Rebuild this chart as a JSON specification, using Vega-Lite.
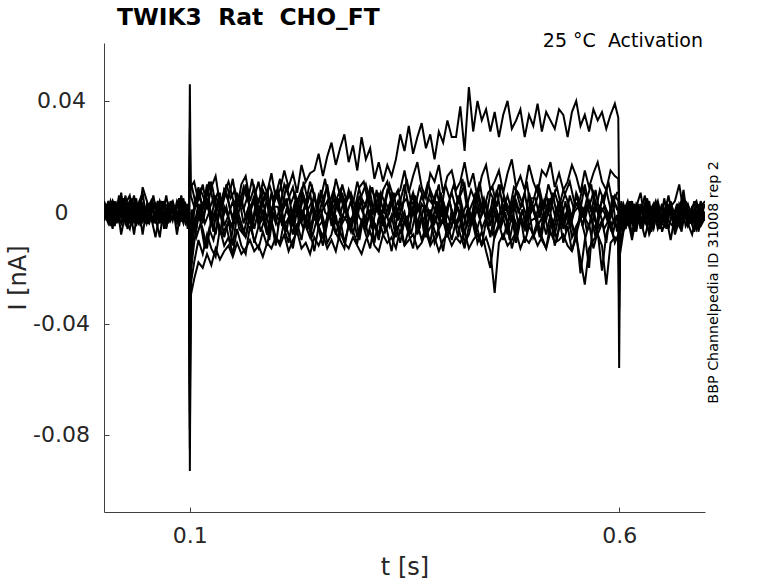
{
  "$schema": "https://vega.github.io/schema/vega-lite/v6.json",
  "width": 601,
  "height": 469,
  "autosize": {"type": "none"},
  "padding": {"left": 104, "top": 43, "right": 73, "bottom": 71},
  "config": {"view": {"stroke": null}, "font": "DejaVu Sans"},
  "title": {
    "text": "TWIK3\u00a0 Rat\u00a0 CHO_FT",
    "anchor": "start",
    "frame": "group",
    "font": "DejaVu Sans",
    "fontSize": 23.4,
    "fontWeight": "bold",
    "color": "#000000",
    "baseline": "alphabetic",
    "offset": 5,
    "dx": 13,
    "dy": 22
  },
  "data": {
    "values": [
{"s":1,"t":0.000,"v":0.002},{"s":1,"t":0.005,"v":-0.003},{"s":1,"t":0.010,"v":0.004},{"s":1,"t":0.015,"v":0},{"s":1,"t":0.020,"v":-0.004},{"s":1,"t":0.025,"v":0.003},{"s":1,"t":0.030,"v":0.006},{"s":1,"t":0.035,"v":-0.002},{"s":1,"t":0.040,"v":-0.004},{"s":1,"t":0.045,"v":0.009},{"s":1,"t":0.050,"v":0.004},{"s":1,"t":0.055,"v":-0.003},{"s":1,"t":0.060,"v":0},{"s":1,"t":0.065,"v":0.003},{"s":1,"t":0.070,"v":-0.006},{"s":1,"t":0.075,"v":0.002},{"s":1,"t":0.080,"v":0.004},{"s":1,"t":0.085,"v":-0.002},{"s":1,"t":0.090,"v":-0.003},{"s":1,"t":0.095,"v":0.003},
{"s":1,"t":0.099,"v":0},{"s":1,"t":0.100,"v":0.046},{"s":1,"t":0.101,"v":0.009},
{"s":1,"t":0.105,"v":0.011},{"s":1,"t":0.110,"v":0.004},{"s":1,"t":0.115,"v":0.010},{"s":1,"t":0.120,"v":0.001},{"s":1,"t":0.125,"v":0.009},{"s":1,"t":0.130,"v":0.013},{"s":1,"t":0.135,"v":0.003},{"s":1,"t":0.140,"v":0.007},{"s":1,"t":0.145,"v":0.011},{"s":1,"t":0.150,"v":0.005},{"s":1,"t":0.155,"v":0.001},{"s":1,"t":0.160,"v":0.010},{"s":1,"t":0.165,"v":0.013},{"s":1,"t":0.170,"v":0.004},{"s":1,"t":0.175,"v":0.009},{"s":1,"t":0.180,"v":0.003},{"s":1,"t":0.185,"v":0.011},{"s":1,"t":0.190,"v":0.007},{"s":1,"t":0.195,"v":0.014},{"s":1,"t":0.200,"v":0.005},
{"s":1,"t":0.205,"v":0.008},{"s":1,"t":0.210,"v":0.015},{"s":1,"t":0.215,"v":0.009},{"s":1,"t":0.220,"v":0.014},{"s":1,"t":0.225,"v":0.007},{"s":1,"t":0.230,"v":0.017},{"s":1,"t":0.235,"v":0.011},{"s":1,"t":0.240,"v":0.014},{"s":1,"t":0.245,"v":0.015},{"s":1,"t":0.250,"v":0.021},{"s":1,"t":0.255,"v":0.013},{"s":1,"t":0.260,"v":0.020},{"s":1,"t":0.265,"v":0.025},{"s":1,"t":0.270,"v":0.017},{"s":1,"t":0.275,"v":0.023},{"s":1,"t":0.280,"v":0.028},{"s":1,"t":0.285,"v":0.018},{"s":1,"t":0.290,"v":0.024},{"s":1,"t":0.295,"v":0.015},{"s":1,"t":0.300,"v":0.027},
{"s":1,"t":0.305,"v":0.019},{"s":1,"t":0.310,"v":0.023},{"s":1,"t":0.315,"v":0.012},{"s":1,"t":0.320,"v":0.018},{"s":1,"t":0.325,"v":0.011},{"s":1,"t":0.330,"v":0.017},{"s":1,"t":0.335,"v":0.013},{"s":1,"t":0.340,"v":0.019},{"s":1,"t":0.345,"v":0.028},{"s":1,"t":0.350,"v":0.022},{"s":1,"t":0.355,"v":0.031},{"s":1,"t":0.360,"v":0.021},{"s":1,"t":0.365,"v":0.027},{"s":1,"t":0.370,"v":0.032},{"s":1,"t":0.375,"v":0.023},{"s":1,"t":0.380,"v":0.028},{"s":1,"t":0.385,"v":0.019},{"s":1,"t":0.390,"v":0.029},{"s":1,"t":0.395,"v":0.025},{"s":1,"t":0.400,"v":0.033},
{"s":1,"t":0.405,"v":0.027},{"s":1,"t":0.410,"v":0.027},{"s":1,"t":0.415,"v":0.038},{"s":1,"t":0.420,"v":0.022},{"s":1,"t":0.425,"v":0.045},{"s":1,"t":0.430,"v":0.029},{"s":1,"t":0.435,"v":0.040},{"s":1,"t":0.440,"v":0.033},{"s":1,"t":0.445,"v":0.037},{"s":1,"t":0.450,"v":0.029},{"s":1,"t":0.455,"v":0.036},{"s":1,"t":0.460,"v":0.027},{"s":1,"t":0.465,"v":0.035},{"s":1,"t":0.470,"v":0.040},{"s":1,"t":0.475,"v":0.030},{"s":1,"t":0.480,"v":0.033},{"s":1,"t":0.485,"v":0.037},{"s":1,"t":0.490,"v":0.027},{"s":1,"t":0.495,"v":0.035},{"s":1,"t":0.500,"v":0.031},
{"s":1,"t":0.505,"v":0.039},{"s":1,"t":0.510,"v":0.029},{"s":1,"t":0.515,"v":0.036},{"s":1,"t":0.520,"v":0.033},{"s":1,"t":0.525,"v":0.030},{"s":1,"t":0.530,"v":0.037},{"s":1,"t":0.535,"v":0.035},{"s":1,"t":0.540,"v":0.027},{"s":1,"t":0.545,"v":0.036},{"s":1,"t":0.550,"v":0.040},{"s":1,"t":0.555,"v":0.031},{"s":1,"t":0.560,"v":0.035},{"s":1,"t":0.565,"v":0.029},{"s":1,"t":0.570,"v":0.037},{"s":1,"t":0.575,"v":0.033},{"s":1,"t":0.580,"v":0.036},{"s":1,"t":0.585,"v":0.030},{"s":1,"t":0.590,"v":0.035},{"s":1,"t":0.595,"v":0.039},
{"s":1,"t":0.599,"v":0.034},{"s":1,"t":0.600,"v":0.002},{"s":1,"t":0.601,"v":0.001},
{"s":1,"t":0.605,"v":-0.002},{"s":1,"t":0.610,"v":0.003},{"s":1,"t":0.615,"v":-0.004},{"s":1,"t":0.620,"v":0.002},{"s":1,"t":0.625,"v":0.007},{"s":1,"t":0.630,"v":-0.003},{"s":1,"t":0.635,"v":0},{"s":1,"t":0.640,"v":0.003},{"s":1,"t":0.645,"v":-0.004},{"s":1,"t":0.650,"v":0.002},{"s":1,"t":0.655,"v":-0.002},{"s":1,"t":0.660,"v":0.004},{"s":1,"t":0.665,"v":-0.003},{"s":1,"t":0.670,"v":0},{"s":1,"t":0.675,"v":0.008},{"s":1,"t":0.680,"v":-0.004},{"s":1,"t":0.685,"v":0.002},{"s":1,"t":0.690,"v":0.004},{"s":1,"t":0.695,"v":-0.002},{"s":1,"t":0.700,"v":0},

{"s":2,"t":0.000,"v":-0.003},{"s":2,"t":0.005,"v":0.002},{"s":2,"t":0.010,"v":0.004},{"s":2,"t":0.015,"v":-0.002},{"s":2,"t":0.020,"v":0.007},{"s":2,"t":0.025,"v":-0.004},{"s":2,"t":0.030,"v":0},{"s":2,"t":0.035,"v":0.006},{"s":2,"t":0.040,"v":-0.003},{"s":2,"t":0.045,"v":0.002},{"s":2,"t":0.050,"v":-0.002},{"s":2,"t":0.055,"v":0.003},{"s":2,"t":0.060,"v":-0.004},{"s":2,"t":0.065,"v":0.004},{"s":2,"t":0.070,"v":0},{"s":2,"t":0.075,"v":-0.003},{"s":2,"t":0.080,"v":0.003},{"s":2,"t":0.085,"v":-0.002},{"s":2,"t":0.090,"v":0.002},{"s":2,"t":0.095,"v":-0.004},
{"s":2,"t":0.099,"v":-0.001},{"s":2,"t":0.100,"v":0.030},{"s":2,"t":0.101,"v":0.006},
{"s":2,"t":0.105,"v":0.002},{"s":2,"t":0.110,"v":0.009},{"s":2,"t":0.115,"v":0.001},{"s":2,"t":0.120,"v":0.006},{"s":2,"t":0.125,"v":0.011},{"s":2,"t":0.130,"v":0.003},{"s":2,"t":0.135,"v":-0.001},{"s":2,"t":0.140,"v":0.008},{"s":2,"t":0.145,"v":0.005},{"s":2,"t":0.150,"v":0.012},{"s":2,"t":0.155,"v":0.002},{"s":2,"t":0.160,"v":0.006},{"s":2,"t":0.165,"v":0.009},{"s":2,"t":0.170,"v":0.001},{"s":2,"t":0.175,"v":0.005},{"s":2,"t":0.180,"v":0.011},{"s":2,"t":0.185,"v":0.003},{"s":2,"t":0.190,"v":0.008},{"s":2,"t":0.195,"v":-0.001},{"s":2,"t":0.200,"v":0.006},
{"s":2,"t":0.205,"v":0.012},{"s":2,"t":0.210,"v":0.002},{"s":2,"t":0.215,"v":0.005},{"s":2,"t":0.220,"v":0.009},{"s":2,"t":0.225,"v":0.001},{"s":2,"t":0.230,"v":0.008},{"s":2,"t":0.235,"v":0.003},{"s":2,"t":0.240,"v":0.011},{"s":2,"t":0.245,"v":0.006},{"s":2,"t":0.250,"v":-0.001},{"s":2,"t":0.255,"v":0.005},{"s":2,"t":0.260,"v":0.009},{"s":2,"t":0.265,"v":0.002},{"s":2,"t":0.270,"v":0.012},{"s":2,"t":0.275,"v":0.006},{"s":2,"t":0.280,"v":0.001},{"s":2,"t":0.285,"v":0.008},{"s":2,"t":0.290,"v":0.003},{"s":2,"t":0.295,"v":0.011},{"s":2,"t":0.300,"v":0.005},
{"s":2,"t":0.305,"v":0.002},{"s":2,"t":0.310,"v":0.009},{"s":2,"t":0.315,"v":0.006},{"s":2,"t":0.320,"v":-0.001},{"s":2,"t":0.325,"v":0.008},{"s":2,"t":0.330,"v":0.011},{"s":2,"t":0.335,"v":0.003},{"s":2,"t":0.340,"v":0.006},{"s":2,"t":0.345,"v":0.008},{"s":2,"t":0.350,"v":0.015},{"s":2,"t":0.355,"v":0.007},{"s":2,"t":0.360,"v":0.013},{"s":2,"t":0.365,"v":0.018},{"s":2,"t":0.370,"v":0.009},{"s":2,"t":0.375,"v":0.005},{"s":2,"t":0.380,"v":0.014},{"s":2,"t":0.385,"v":0.011},{"s":2,"t":0.390,"v":0.017},{"s":2,"t":0.395,"v":0.007},{"s":2,"t":0.400,"v":0.013},
{"s":2,"t":0.405,"v":0.015},{"s":2,"t":0.410,"v":0.008},{"s":2,"t":0.415,"v":0.011},{"s":2,"t":0.420,"v":0.018},{"s":2,"t":0.425,"v":0.009},{"s":2,"t":0.430,"v":0.014},{"s":2,"t":0.435,"v":0.005},{"s":2,"t":0.440,"v":0.013},{"s":2,"t":0.445,"v":0.017},{"s":2,"t":0.450,"v":0.008},{"s":2,"t":0.455,"v":0.011},{"s":2,"t":0.460,"v":0.015},{"s":2,"t":0.465,"v":0.007},{"s":2,"t":0.470,"v":0.014},{"s":2,"t":0.475,"v":0.019},{"s":2,"t":0.480,"v":0.009},{"s":2,"t":0.485,"v":0.013},{"s":2,"t":0.490,"v":0.008},{"s":2,"t":0.495,"v":0.017},{"s":2,"t":0.500,"v":0.011},
{"s":2,"t":0.505,"v":0.007},{"s":2,"t":0.510,"v":0.015},{"s":2,"t":0.515,"v":0.013},{"s":2,"t":0.520,"v":0.018},{"s":2,"t":0.525,"v":0.009},{"s":2,"t":0.530,"v":0.014},{"s":2,"t":0.535,"v":0.008},{"s":2,"t":0.540,"v":0.011},{"s":2,"t":0.545,"v":0.017},{"s":2,"t":0.550,"v":0.013},{"s":2,"t":0.555,"v":0.007},{"s":2,"t":0.560,"v":0.015},{"s":2,"t":0.565,"v":0.009},{"s":2,"t":0.570,"v":0.014},{"s":2,"t":0.575,"v":0.018},{"s":2,"t":0.580,"v":0.011},{"s":2,"t":0.585,"v":0.008},{"s":2,"t":0.590,"v":0.015},{"s":2,"t":0.595,"v":0.013},
{"s":2,"t":0.599,"v":0.012},{"s":2,"t":0.600,"v":0},{"s":2,"t":0.601,"v":-0.002},
{"s":2,"t":0.605,"v":0.003},{"s":2,"t":0.610,"v":-0.002},{"s":2,"t":0.615,"v":0.004},{"s":2,"t":0.620,"v":-0.003},{"s":2,"t":0.625,"v":0},{"s":2,"t":0.630,"v":0.006},{"s":2,"t":0.635,"v":-0.004},{"s":2,"t":0.640,"v":0.002},{"s":2,"t":0.645,"v":-0.002},{"s":2,"t":0.650,"v":0.003},{"s":2,"t":0.655,"v":-0.006},{"s":2,"t":0.660,"v":0.002},{"s":2,"t":0.665,"v":0.004},{"s":2,"t":0.670,"v":0.010},{"s":2,"t":0.675,"v":0},{"s":2,"t":0.680,"v":0.003},{"s":2,"t":0.685,"v":-0.002},{"s":2,"t":0.690,"v":-0.004},{"s":2,"t":0.695,"v":0.002},{"s":2,"t":0.700,"v":0.004},

{"s":3,"t":0.000,"v":0.004},{"s":3,"t":0.005,"v":0},{"s":3,"t":0.010,"v":-0.003},{"s":3,"t":0.015,"v":0.003},{"s":3,"t":0.020,"v":-0.002},{"s":3,"t":0.025,"v":0.006},{"s":3,"t":0.030,"v":-0.004},{"s":3,"t":0.035,"v":0.002},{"s":3,"t":0.040,"v":0.003},{"s":3,"t":0.045,"v":-0.003},{"s":3,"t":0.050,"v":0},{"s":3,"t":0.055,"v":0.004},{"s":3,"t":0.060,"v":-0.002},{"s":3,"t":0.065,"v":-0.009},{"s":3,"t":0.070,"v":0.003},{"s":3,"t":0.075,"v":0.002},{"s":3,"t":0.080,"v":-0.003},{"s":3,"t":0.085,"v":0.004},{"s":3,"t":0.090,"v":0},{"s":3,"t":0.095,"v":-0.002},
{"s":3,"t":0.099,"v":0.001},{"s":3,"t":0.100,"v":-0.040},{"s":3,"t":0.101,"v":-0.010},
{"s":3,"t":0.105,"v":0},{"s":3,"t":0.110,"v":0.007},{"s":3,"t":0.115,"v":0.002},{"s":3,"t":0.120,"v":0.010},{"s":3,"t":0.125,"v":-0.002},{"s":3,"t":0.130,"v":0.006},{"s":3,"t":0.135,"v":0.001},{"s":3,"t":0.140,"v":0.008},{"s":3,"t":0.145,"v":0.004},{"s":3,"t":0.150,"v":-0.003},{"s":3,"t":0.155,"v":0.007},{"s":3,"t":0.160,"v":0.002},{"s":3,"t":0.165,"v":0.010},{"s":3,"t":0.170,"v":0.001},{"s":3,"t":0.175,"v":0.006},{"s":3,"t":0.180,"v":-0.002},{"s":3,"t":0.185,"v":0.008},{"s":3,"t":0.190,"v":0.004},{"s":3,"t":0.195,"v":0},{"s":3,"t":0.200,"v":0.007},
{"s":3,"t":0.205,"v":0.002},{"s":3,"t":0.210,"v":0.010},{"s":3,"t":0.215,"v":0.006},{"s":3,"t":0.220,"v":-0.002},{"s":3,"t":0.225,"v":0.004},{"s":3,"t":0.230,"v":0.008},{"s":3,"t":0.235,"v":0.001},{"s":3,"t":0.240,"v":0.007},{"s":3,"t":0.245,"v":-0.003},{"s":3,"t":0.250,"v":0.006},{"s":3,"t":0.255,"v":0.002},{"s":3,"t":0.260,"v":0.010},{"s":3,"t":0.265,"v":0},{"s":3,"t":0.270,"v":0.004},{"s":3,"t":0.275,"v":0.008},{"s":3,"t":0.280,"v":0.001},{"s":3,"t":0.285,"v":0.007},{"s":3,"t":0.290,"v":0.002},{"s":3,"t":0.295,"v":-0.002},{"s":3,"t":0.300,"v":0.006},
{"s":3,"t":0.305,"v":0.010},{"s":3,"t":0.310,"v":0.004},{"s":3,"t":0.315,"v":0},{"s":3,"t":0.320,"v":0.007},{"s":3,"t":0.325,"v":0.001},{"s":3,"t":0.330,"v":0.008},{"s":3,"t":0.335,"v":0.006},{"s":3,"t":0.340,"v":-0.002},{"s":3,"t":0.345,"v":0.004},{"s":3,"t":0.350,"v":0.010},{"s":3,"t":0.355,"v":0.002},{"s":3,"t":0.360,"v":0.007},{"s":3,"t":0.365,"v":0},{"s":3,"t":0.370,"v":0.006},{"s":3,"t":0.375,"v":0.001},{"s":3,"t":0.380,"v":0.008},{"s":3,"t":0.385,"v":0.004},{"s":3,"t":0.390,"v":0.010},{"s":3,"t":0.395,"v":-0.002},{"s":3,"t":0.400,"v":0.002},
{"s":3,"t":0.405,"v":0.007},{"s":3,"t":0.410,"v":0.001},{"s":3,"t":0.415,"v":0.006},{"s":3,"t":0.420,"v":0.010},{"s":3,"t":0.425,"v":0},{"s":3,"t":0.430,"v":0.004},{"s":3,"t":0.435,"v":0.008},{"s":3,"t":0.440,"v":0.002},{"s":3,"t":0.445,"v":-0.002},{"s":3,"t":0.450,"v":0.007},{"s":3,"t":0.455,"v":0.004},{"s":3,"t":0.460,"v":0.010},{"s":3,"t":0.465,"v":0.001},{"s":3,"t":0.470,"v":0.006},{"s":3,"t":0.475,"v":0},{"s":3,"t":0.480,"v":0.008},{"s":3,"t":0.485,"v":0.002},{"s":3,"t":0.490,"v":0.007},{"s":3,"t":0.495,"v":-0.002},{"s":3,"t":0.500,"v":0.004},
{"s":3,"t":0.505,"v":0.010},{"s":3,"t":0.510,"v":0.001},{"s":3,"t":0.515,"v":0.006},{"s":3,"t":0.520,"v":0},{"s":3,"t":0.525,"v":0.007},{"s":3,"t":0.530,"v":0.002},{"s":3,"t":0.535,"v":0.008},{"s":3,"t":0.540,"v":0.004},{"s":3,"t":0.545,"v":-0.002},{"s":3,"t":0.550,"v":0.006},{"s":3,"t":0.555,"v":0.001},{"s":3,"t":0.560,"v":0.010},{"s":3,"t":0.565,"v":0.002},{"s":3,"t":0.570,"v":0.007},{"s":3,"t":0.575,"v":0},{"s":3,"t":0.580,"v":0.004},{"s":3,"t":0.585,"v":0.008},{"s":3,"t":0.590,"v":0.001},{"s":3,"t":0.595,"v":0.006},
{"s":3,"t":0.599,"v":0.004},{"s":3,"t":0.600,"v":-0.008},{"s":3,"t":0.601,"v":-0.003},
{"s":3,"t":0.605,"v":0},{"s":3,"t":0.610,"v":0.004},{"s":3,"t":0.615,"v":-0.003},{"s":3,"t":0.620,"v":0.002},{"s":3,"t":0.625,"v":-0.006},{"s":3,"t":0.630,"v":0.003},{"s":3,"t":0.635,"v":0},{"s":3,"t":0.640,"v":-0.002},{"s":3,"t":0.645,"v":0.004},{"s":3,"t":0.650,"v":-0.004},{"s":3,"t":0.655,"v":0.002},{"s":3,"t":0.660,"v":0.003},{"s":3,"t":0.665,"v":-0.003},{"s":3,"t":0.670,"v":0},{"s":3,"t":0.675,"v":0.006},{"s":3,"t":0.680,"v":-0.002},{"s":3,"t":0.685,"v":-0.004},{"s":3,"t":0.690,"v":0.003},{"s":3,"t":0.695,"v":0.002},{"s":3,"t":0.700,"v":-0.003},

{"s":4,"t":0.000,"v":-0.002},{"s":4,"t":0.005,"v":0.004},{"s":4,"t":0.010,"v":-0.004},{"s":4,"t":0.015,"v":0.002},{"s":4,"t":0.020,"v":0},{"s":4,"t":0.025,"v":-0.003},{"s":4,"t":0.030,"v":0.004},{"s":4,"t":0.035,"v":-0.002},{"s":4,"t":0.040,"v":0.003},{"s":4,"t":0.045,"v":-0.008},{"s":4,"t":0.050,"v":0.002},{"s":4,"t":0.055,"v":0},{"s":4,"t":0.060,"v":0.003},{"s":4,"t":0.065,"v":-0.004},{"s":4,"t":0.070,"v":0.004},{"s":4,"t":0.075,"v":-0.002},{"s":4,"t":0.080,"v":0.002},{"s":4,"t":0.085,"v":-0.003},{"s":4,"t":0.090,"v":0.003},{"s":4,"t":0.095,"v":0},
{"s":4,"t":0.099,"v":0},{"s":4,"t":0.100,"v":-0.052},{"s":4,"t":0.101,"v":-0.014},
{"s":4,"t":0.105,"v":-0.005},{"s":4,"t":0.110,"v":0.003},{"s":4,"t":0.115,"v":-0.002},{"s":4,"t":0.120,"v":0.005},{"s":4,"t":0.125,"v":-0.003},{"s":4,"t":0.130,"v":0.001},{"s":4,"t":0.135,"v":0.007},{"s":4,"t":0.140,"v":-0.005},{"s":4,"t":0.145,"v":-0.001},{"s":4,"t":0.150,"v":0.004},{"s":4,"t":0.155,"v":-0.003},{"s":4,"t":0.160,"v":0.005},{"s":4,"t":0.165,"v":-0.002},{"s":4,"t":0.170,"v":0.003},{"s":4,"t":0.175,"v":-0.006},{"s":4,"t":0.180,"v":0.001},{"s":4,"t":0.185,"v":0.004},{"s":4,"t":0.190,"v":-0.003},{"s":4,"t":0.195,"v":0.007},{"s":4,"t":0.200,"v":-0.001},
{"s":4,"t":0.205,"v":-0.003},{"s":4,"t":0.210,"v":0.004},{"s":4,"t":0.215,"v":0.001},{"s":4,"t":0.220,"v":-0.005},{"s":4,"t":0.225,"v":0.005},{"s":4,"t":0.230,"v":-0.001},{"s":4,"t":0.235,"v":0.003},{"s":4,"t":0.240,"v":-0.002},{"s":4,"t":0.245,"v":0.007},{"s":4,"t":0.250,"v":-0.003},{"s":4,"t":0.255,"v":0.001},{"s":4,"t":0.260,"v":0.004},{"s":4,"t":0.265,"v":-0.005},{"s":4,"t":0.270,"v":0.003},{"s":4,"t":0.275,"v":-0.001},{"s":4,"t":0.280,"v":0.005},{"s":4,"t":0.285,"v":-0.002},{"s":4,"t":0.290,"v":-0.003},{"s":4,"t":0.295,"v":0.004},{"s":4,"t":0.300,"v":0.001},
{"s":4,"t":0.305,"v":-0.003},{"s":4,"t":0.310,"v":0.007},{"s":4,"t":0.315,"v":-0.001},{"s":4,"t":0.320,"v":0.003},{"s":4,"t":0.325,"v":-0.005},{"s":4,"t":0.330,"v":0.001},{"s":4,"t":0.335,"v":0.005},{"s":4,"t":0.340,"v":-0.002},{"s":4,"t":0.345,"v":0.004},{"s":4,"t":0.350,"v":-0.003},{"s":4,"t":0.355,"v":-0.001},{"s":4,"t":0.360,"v":0.007},{"s":4,"t":0.365,"v":-0.005},{"s":4,"t":0.370,"v":0.003},{"s":4,"t":0.375,"v":0.001},{"s":4,"t":0.380,"v":-0.002},{"s":4,"t":0.385,"v":0.005},{"s":4,"t":0.390,"v":-0.003},{"s":4,"t":0.395,"v":0.004},{"s":4,"t":0.400,"v":-0.001},
{"s":4,"t":0.405,"v":-0.005},{"s":4,"t":0.410,"v":0.003},{"s":4,"t":0.415,"v":0.005},{"s":4,"t":0.420,"v":-0.002},{"s":4,"t":0.425,"v":0.001},{"s":4,"t":0.430,"v":-0.003},{"s":4,"t":0.435,"v":0.007},{"s":4,"t":0.440,"v":-0.001},{"s":4,"t":0.445,"v":0.004},{"s":4,"t":0.450,"v":-0.005},{"s":4,"t":0.455,"v":0.003},{"s":4,"t":0.460,"v":-0.002},{"s":4,"t":0.465,"v":0.005},{"s":4,"t":0.470,"v":0.001},{"s":4,"t":0.475,"v":-0.003},{"s":4,"t":0.480,"v":0.004},{"s":4,"t":0.485,"v":-0.001},{"s":4,"t":0.490,"v":-0.005},{"s":4,"t":0.495,"v":0.007},{"s":4,"t":0.500,"v":0.001},
{"s":4,"t":0.505,"v":-0.002},{"s":4,"t":0.510,"v":0.003},{"s":4,"t":0.515,"v":-0.003},{"s":4,"t":0.520,"v":0.005},{"s":4,"t":0.525,"v":-0.001},{"s":4,"t":0.530,"v":0.004},{"s":4,"t":0.535,"v":-0.005},{"s":4,"t":0.540,"v":0.001},{"s":4,"t":0.545,"v":-0.002},{"s":4,"t":0.550,"v":0.007},{"s":4,"t":0.555,"v":0.003},{"s":4,"t":0.560,"v":-0.003},{"s":4,"t":0.565,"v":0.004},{"s":4,"t":0.570,"v":-0.001},{"s":4,"t":0.575,"v":-0.005},{"s":4,"t":0.580,"v":0.005},{"s":4,"t":0.585,"v":0.001},{"s":4,"t":0.590,"v":-0.002},{"s":4,"t":0.595,"v":0.003},
{"s":4,"t":0.599,"v":0.001},{"s":4,"t":0.600,"v":-0.012},{"s":4,"t":0.601,"v":-0.005},
{"s":4,"t":0.605,"v":-0.003},{"s":4,"t":0.610,"v":0.002},{"s":4,"t":0.615,"v":-0.004},{"s":4,"t":0.620,"v":0.003},{"s":4,"t":0.625,"v":0},{"s":4,"t":0.630,"v":-0.002},{"s":4,"t":0.635,"v":0.004},{"s":4,"t":0.640,"v":-0.006},{"s":4,"t":0.645,"v":0.002},{"s":4,"t":0.650,"v":-0.003},{"s":4,"t":0.655,"v":0.003},{"s":4,"t":0.660,"v":0},{"s":4,"t":0.665,"v":-0.004},{"s":4,"t":0.670,"v":0.002},{"s":4,"t":0.675,"v":0.004},{"s":4,"t":0.680,"v":-0.003},{"s":4,"t":0.685,"v":-0.002},{"s":4,"t":0.690,"v":0.003},{"s":4,"t":0.695,"v":-0.004},{"s":4,"t":0.700,"v":0},

{"s":5,"t":0.000,"v":0.003},{"s":5,"t":0.005,"v":-0.002},{"s":5,"t":0.010,"v":0.002},{"s":5,"t":0.015,"v":-0.004},{"s":5,"t":0.020,"v":0.004},{"s":5,"t":0.025,"v":0},{"s":5,"t":0.030,"v":-0.003},{"s":5,"t":0.035,"v":0.003},{"s":5,"t":0.040,"v":-0.002},{"s":5,"t":0.045,"v":0.007},{"s":5,"t":0.050,"v":-0.004},{"s":5,"t":0.055,"v":0},{"s":5,"t":0.060,"v":0.002},{"s":5,"t":0.065,"v":-0.003},{"s":5,"t":0.070,"v":0.003},{"s":5,"t":0.075,"v":-0.002},{"s":5,"t":0.080,"v":0.004},{"s":5,"t":0.085,"v":-0.004},{"s":5,"t":0.090,"v":0},{"s":5,"t":0.095,"v":0.002},
{"s":5,"t":0.099,"v":-0.001},{"s":5,"t":0.100,"v":-0.062},{"s":5,"t":0.101,"v":-0.018},
{"s":5,"t":0.105,"v":-0.006},{"s":5,"t":0.110,"v":0.001},{"s":5,"t":0.115,"v":-0.004},{"s":5,"t":0.120,"v":0.004},{"s":5,"t":0.125,"v":-0.005},{"s":5,"t":0.130,"v":0},{"s":5,"t":0.135,"v":-0.008},{"s":5,"t":0.140,"v":0.002},{"s":5,"t":0.145,"v":-0.002},{"s":5,"t":0.150,"v":-0.006},{"s":5,"t":0.155,"v":0.001},{"s":5,"t":0.160,"v":-0.004},{"s":5,"t":0.165,"v":-0.009},{"s":5,"t":0.170,"v":0},{"s":5,"t":0.175,"v":0.004},{"s":5,"t":0.180,"v":-0.005},{"s":5,"t":0.185,"v":-0.002},{"s":5,"t":0.190,"v":-0.008},{"s":5,"t":0.195,"v":0.001},{"s":5,"t":0.200,"v":-0.004},
{"s":5,"t":0.205,"v":0.002},{"s":5,"t":0.210,"v":-0.005},{"s":5,"t":0.215,"v":-0.002},{"s":5,"t":0.220,"v":-0.008},{"s":5,"t":0.225,"v":0.001},{"s":5,"t":0.230,"v":-0.004},{"s":5,"t":0.235,"v":0.004},{"s":5,"t":0.240,"v":-0.006},{"s":5,"t":0.245,"v":0},{"s":5,"t":0.250,"v":-0.005},{"s":5,"t":0.255,"v":-0.009},{"s":5,"t":0.260,"v":-0.002},{"s":5,"t":0.265,"v":0.002},{"s":5,"t":0.270,"v":-0.004},{"s":5,"t":0.275,"v":-0.006},{"s":5,"t":0.280,"v":0.001},{"s":5,"t":0.285,"v":-0.002},{"s":5,"t":0.290,"v":-0.008},{"s":5,"t":0.295,"v":0},{"s":5,"t":0.300,"v":0.004},
{"s":5,"t":0.305,"v":-0.005},{"s":5,"t":0.310,"v":0},{"s":5,"t":0.315,"v":-0.004},{"s":5,"t":0.320,"v":-0.008},{"s":5,"t":0.325,"v":0.001},{"s":5,"t":0.330,"v":-0.002},{"s":5,"t":0.335,"v":0.004},{"s":5,"t":0.340,"v":-0.006},{"s":5,"t":0.345,"v":-0.004},{"s":5,"t":0.350,"v":0},{"s":5,"t":0.355,"v":-0.008},{"s":5,"t":0.360,"v":0.002},{"s":5,"t":0.365,"v":-0.005},{"s":5,"t":0.370,"v":-0.002},{"s":5,"t":0.375,"v":-0.009},{"s":5,"t":0.380,"v":0.001},{"s":5,"t":0.385,"v":-0.004},{"s":5,"t":0.390,"v":0},{"s":5,"t":0.395,"v":0.004},{"s":5,"t":0.400,"v":-0.006},
{"s":5,"t":0.405,"v":-0.002},{"s":5,"t":0.410,"v":-0.005},{"s":5,"t":0.415,"v":0.001},{"s":5,"t":0.420,"v":-0.008},{"s":5,"t":0.425,"v":0},{"s":5,"t":0.430,"v":-0.004},{"s":5,"t":0.435,"v":0.002},{"s":5,"t":0.440,"v":-0.006},{"s":5,"t":0.445,"v":-0.002},{"s":5,"t":0.450,"v":-0.009},{"s":5,"t":0.455,"v":0},{"s":5,"t":0.460,"v":-0.005},{"s":5,"t":0.465,"v":0.001},{"s":5,"t":0.470,"v":-0.004},{"s":5,"t":0.475,"v":0.004},{"s":5,"t":0.480,"v":-0.008},{"s":5,"t":0.485,"v":-0.002},{"s":5,"t":0.490,"v":-0.006},{"s":5,"t":0.495,"v":0},{"s":5,"t":0.500,"v":0.002},
{"s":5,"t":0.505,"v":-0.004},{"s":5,"t":0.510,"v":-0.008},{"s":5,"t":0.515,"v":0.001},{"s":5,"t":0.520,"v":-0.002},{"s":5,"t":0.525,"v":-0.005},{"s":5,"t":0.530,"v":0.002},{"s":5,"t":0.535,"v":-0.006},{"s":5,"t":0.540,"v":0},{"s":5,"t":0.545,"v":-0.004},{"s":5,"t":0.550,"v":-0.009},{"s":5,"t":0.555,"v":0.001},{"s":5,"t":0.560,"v":-0.002},{"s":5,"t":0.565,"v":-0.005},{"s":5,"t":0.570,"v":0.002},{"s":5,"t":0.575,"v":-0.008},{"s":5,"t":0.580,"v":-0.004},{"s":5,"t":0.585,"v":0},{"s":5,"t":0.590,"v":-0.006},{"s":5,"t":0.595,"v":-0.002},
{"s":5,"t":0.599,"v":-0.002},{"s":5,"t":0.600,"v":-0.018},{"s":5,"t":0.601,"v":-0.007},
{"s":5,"t":0.605,"v":-0.004},{"s":5,"t":0.610,"v":0},{"s":5,"t":0.615,"v":0.003},{"s":5,"t":0.620,"v":-0.006},{"s":5,"t":0.625,"v":0.002},{"s":5,"t":0.630,"v":-0.003},{"s":5,"t":0.635,"v":-0.007},{"s":5,"t":0.640,"v":0},{"s":5,"t":0.645,"v":0.004},{"s":5,"t":0.650,"v":-0.004},{"s":5,"t":0.655,"v":-0.002},{"s":5,"t":0.660,"v":0.002},{"s":5,"t":0.665,"v":-0.006},{"s":5,"t":0.670,"v":0.003},{"s":5,"t":0.675,"v":0},{"s":5,"t":0.680,"v":-0.003},{"s":5,"t":0.685,"v":0.002},{"s":5,"t":0.690,"v":-0.006},{"s":5,"t":0.695,"v":-0.002},{"s":5,"t":0.700,"v":0.003},

{"s":6,"t":0.000,"v":-0.002},{"s":6,"t":0.005,"v":0.003},{"s":6,"t":0.010,"v":-0.004},{"s":6,"t":0.015,"v":0},{"s":6,"t":0.020,"v":0.004},{"s":6,"t":0.025,"v":-0.003},{"s":6,"t":0.030,"v":0.002},{"s":6,"t":0.035,"v":-0.008},{"s":6,"t":0.040,"v":0.003},{"s":6,"t":0.045,"v":-0.002},{"s":6,"t":0.050,"v":0},{"s":6,"t":0.055,"v":0.004},{"s":6,"t":0.060,"v":-0.003},{"s":6,"t":0.065,"v":0.002},{"s":6,"t":0.070,"v":-0.004},{"s":6,"t":0.075,"v":0.003},{"s":6,"t":0.080,"v":0},{"s":6,"t":0.085,"v":-0.003},{"s":6,"t":0.090,"v":0.006},{"s":6,"t":0.095,"v":-0.002},
{"s":6,"t":0.099,"v":0},{"s":6,"t":0.100,"v":-0.072},{"s":6,"t":0.101,"v":-0.022},
{"s":6,"t":0.105,"v":-0.011},{"s":6,"t":0.110,"v":-0.001},{"s":6,"t":0.115,"v":-0.006},{"s":6,"t":0.120,"v":-0.013},{"s":6,"t":0.125,"v":-0.002},{"s":6,"t":0.130,"v":-0.008},{"s":6,"t":0.135,"v":0.001},{"s":6,"t":0.140,"v":-0.009},{"s":6,"t":0.145,"v":-0.003},{"s":6,"t":0.150,"v":-0.012},{"s":6,"t":0.155,"v":-0.001},{"s":6,"t":0.160,"v":-0.006},{"s":6,"t":0.165,"v":-0.009},{"s":6,"t":0.170,"v":-0.002},{"s":6,"t":0.175,"v":-0.011},{"s":6,"t":0.180,"v":-0.005},{"s":6,"t":0.185,"v":0.001},{"s":6,"t":0.190,"v":-0.008},{"s":6,"t":0.195,"v":-0.003},{"s":6,"t":0.200,"v":-0.012},
{"s":6,"t":0.205,"v":-0.001},{"s":6,"t":0.210,"v":-0.006},{"s":6,"t":0.215,"v":-0.011},{"s":6,"t":0.220,"v":-0.002},{"s":6,"t":0.225,"v":-0.008},{"s":6,"t":0.230,"v":0.001},{"s":6,"t":0.235,"v":-0.005},{"s":6,"t":0.240,"v":-0.009},{"s":6,"t":0.245,"v":-0.001},{"s":6,"t":0.250,"v":-0.006},{"s":6,"t":0.255,"v":-0.012},{"s":6,"t":0.260,"v":-0.003},{"s":6,"t":0.265,"v":0.001},{"s":6,"t":0.270,"v":-0.008},{"s":6,"t":0.275,"v":-0.002},{"s":6,"t":0.280,"v":-0.011},{"s":6,"t":0.285,"v":-0.005},{"s":6,"t":0.290,"v":-0.001},{"s":6,"t":0.295,"v":-0.009},{"s":6,"t":0.300,"v":-0.003},
{"s":6,"t":0.305,"v":-0.006},{"s":6,"t":0.310,"v":0.001},{"s":6,"t":0.315,"v":-0.011},{"s":6,"t":0.320,"v":-0.002},{"s":6,"t":0.325,"v":-0.008},{"s":6,"t":0.330,"v":-0.005},{"s":6,"t":0.335,"v":-0.001},{"s":6,"t":0.340,"v":-0.009},{"s":6,"t":0.345,"v":-0.003},{"s":6,"t":0.350,"v":-0.012},{"s":6,"t":0.355,"v":-0.006},{"s":6,"t":0.360,"v":0.001},{"s":6,"t":0.365,"v":-0.008},{"s":6,"t":0.370,"v":-0.002},{"s":6,"t":0.375,"v":-0.005},{"s":6,"t":0.380,"v":-0.011},{"s":6,"t":0.385,"v":-0.001},{"s":6,"t":0.390,"v":-0.006},{"s":6,"t":0.395,"v":-0.003},{"s":6,"t":0.400,"v":-0.009},
{"s":6,"t":0.405,"v":0.001},{"s":6,"t":0.410,"v":-0.005},{"s":6,"t":0.415,"v":-0.002},{"s":6,"t":0.420,"v":-0.011},{"s":6,"t":0.425,"v":-0.008},{"s":6,"t":0.430,"v":-0.001},{"s":6,"t":0.435,"v":-0.006},{"s":6,"t":0.440,"v":-0.012},{"s":6,"t":0.445,"v":-0.003},{"s":6,"t":0.450,"v":0.001},{"s":6,"t":0.455,"v":-0.009},{"s":6,"t":0.460,"v":-0.005},{"s":6,"t":0.465,"v":-0.002},{"s":6,"t":0.470,"v":-0.008},{"s":6,"t":0.475,"v":-0.001},{"s":6,"t":0.480,"v":-0.011},{"s":6,"t":0.485,"v":-0.003},{"s":6,"t":0.490,"v":-0.006},{"s":6,"t":0.495,"v":0.001},{"s":6,"t":0.500,"v":-0.009},
{"s":6,"t":0.505,"v":-0.005},{"s":6,"t":0.510,"v":-0.002},{"s":6,"t":0.515,"v":-0.008},{"s":6,"t":0.520,"v":-0.001},{"s":6,"t":0.525,"v":-0.012},{"s":6,"t":0.530,"v":-0.006},{"s":6,"t":0.535,"v":-0.003},{"s":6,"t":0.540,"v":0.001},{"s":6,"t":0.545,"v":-0.009},{"s":6,"t":0.550,"v":-0.005},{"s":6,"t":0.555,"v":-0.002},{"s":6,"t":0.560,"v":-0.008},{"s":6,"t":0.565,"v":-0.020},{"s":6,"t":0.570,"v":-0.001},{"s":6,"t":0.575,"v":-0.006},{"s":6,"t":0.580,"v":-0.003},{"s":6,"t":0.585,"v":-0.011},{"s":6,"t":0.590,"v":0.001},{"s":6,"t":0.595,"v":-0.005},
{"s":6,"t":0.599,"v":-0.005},{"s":6,"t":0.600,"v":-0.025},{"s":6,"t":0.601,"v":-0.009},
{"s":6,"t":0.605,"v":0.002},{"s":6,"t":0.610,"v":-0.004},{"s":6,"t":0.615,"v":0},{"s":6,"t":0.620,"v":-0.007},{"s":6,"t":0.625,"v":0.003},{"s":6,"t":0.630,"v":-0.003},{"s":6,"t":0.635,"v":-0.002},{"s":6,"t":0.640,"v":-0.006},{"s":6,"t":0.645,"v":0.002},{"s":6,"t":0.650,"v":-0.004},{"s":6,"t":0.655,"v":0.003},{"s":6,"t":0.660,"v":0},{"s":6,"t":0.665,"v":-0.006},{"s":6,"t":0.670,"v":-0.002},{"s":6,"t":0.675,"v":0.003},{"s":6,"t":0.680,"v":-0.004},{"s":6,"t":0.685,"v":0},{"s":6,"t":0.690,"v":-0.003},{"s":6,"t":0.695,"v":0.004},{"s":6,"t":0.700,"v":-0.002},

{"s":7,"t":0.000,"v":0},{"s":7,"t":0.005,"v":-0.004},{"s":7,"t":0.010,"v":0.003},{"s":7,"t":0.015,"v":-0.002},{"s":7,"t":0.020,"v":0.004},{"s":7,"t":0.025,"v":-0.003},{"s":7,"t":0.030,"v":-0.006},{"s":7,"t":0.035,"v":0.002},{"s":7,"t":0.040,"v":0},{"s":7,"t":0.045,"v":0.003},{"s":7,"t":0.050,"v":-0.004},{"s":7,"t":0.055,"v":0.002},{"s":7,"t":0.060,"v":-0.002},{"s":7,"t":0.065,"v":0.004},{"s":7,"t":0.070,"v":-0.003},{"s":7,"t":0.075,"v":0},{"s":7,"t":0.080,"v":0.003},{"s":7,"t":0.085,"v":-0.008},{"s":7,"t":0.090,"v":0.002},{"s":7,"t":0.095,"v":-0.002},
{"s":7,"t":0.099,"v":-0.001},{"s":7,"t":0.100,"v":-0.085},{"s":7,"t":0.101,"v":-0.026},
{"s":7,"t":0.105,"v":-0.018},{"s":7,"t":0.110,"v":-0.010},{"s":7,"t":0.115,"v":-0.015},{"s":7,"t":0.120,"v":-0.008},{"s":7,"t":0.125,"v":-0.013},{"s":7,"t":0.130,"v":-0.016},{"s":7,"t":0.135,"v":-0.006},{"s":7,"t":0.140,"v":-0.012},{"s":7,"t":0.145,"v":-0.009},{"s":7,"t":0.150,"v":-0.015},{"s":7,"t":0.155,"v":-0.006},{"s":7,"t":0.160,"v":-0.012},{"s":7,"t":0.165,"v":-0.015},{"s":7,"t":0.170,"v":-0.005},{"s":7,"t":0.175,"v":-0.010},{"s":7,"t":0.180,"v":-0.013},{"s":7,"t":0.185,"v":-0.007},{"s":7,"t":0.190,"v":-0.012},{"s":7,"t":0.195,"v":-0.003},{"s":7,"t":0.200,"v":-0.009},
{"s":7,"t":0.205,"v":-0.011},{"s":7,"t":0.210,"v":-0.003},{"s":7,"t":0.215,"v":-0.008},{"s":7,"t":0.220,"v":-0.013},{"s":7,"t":0.225,"v":-0.004},{"s":7,"t":0.230,"v":-0.010},{"s":7,"t":0.235,"v":-0.001},{"s":7,"t":0.240,"v":-0.007},{"s":7,"t":0.245,"v":-0.014},{"s":7,"t":0.250,"v":-0.005},{"s":7,"t":0.255,"v":-0.003},{"s":7,"t":0.260,"v":-0.011},{"s":7,"t":0.265,"v":-0.008},{"s":7,"t":0.270,"v":-0.001},{"s":7,"t":0.275,"v":-0.010},{"s":7,"t":0.280,"v":-0.013},{"s":7,"t":0.285,"v":-0.004},{"s":7,"t":0.290,"v":-0.007},{"s":7,"t":0.295,"v":-0.011},{"s":7,"t":0.300,"v":-0.003},
{"s":7,"t":0.305,"v":-0.008},{"s":7,"t":0.310,"v":-0.013},{"s":7,"t":0.315,"v":-0.004},{"s":7,"t":0.320,"v":-0.010},{"s":7,"t":0.325,"v":-0.001},{"s":7,"t":0.330,"v":-0.007},{"s":7,"t":0.335,"v":-0.014},{"s":7,"t":0.340,"v":-0.005},{"s":7,"t":0.345,"v":-0.011},{"s":7,"t":0.350,"v":-0.003},{"s":7,"t":0.355,"v":-0.008},{"s":7,"t":0.360,"v":-0.013},{"s":7,"t":0.365,"v":-0.004},{"s":7,"t":0.370,"v":-0.010},{"s":7,"t":0.375,"v":-0.005},{"s":7,"t":0.380,"v":-0.001},{"s":7,"t":0.385,"v":-0.011},{"s":7,"t":0.390,"v":-0.007},{"s":7,"t":0.395,"v":-0.014},{"s":7,"t":0.400,"v":-0.004},
{"s":7,"t":0.405,"v":-0.010},{"s":7,"t":0.410,"v":-0.003},{"s":7,"t":0.415,"v":-0.008},{"s":7,"t":0.420,"v":-0.013},{"s":7,"t":0.425,"v":-0.005},{"s":7,"t":0.430,"v":-0.001},{"s":7,"t":0.435,"v":-0.011},{"s":7,"t":0.440,"v":-0.007},{"s":7,"t":0.445,"v":-0.014},{"s":7,"t":0.450,"v":-0.020},{"s":7,"t":0.455,"v":-0.008},{"s":7,"t":0.460,"v":-0.004},{"s":7,"t":0.465,"v":-0.010},{"s":7,"t":0.470,"v":-0.003},{"s":7,"t":0.475,"v":-0.013},{"s":7,"t":0.480,"v":-0.007},{"s":7,"t":0.485,"v":-0.001},{"s":7,"t":0.490,"v":-0.011},{"s":7,"t":0.495,"v":-0.005},{"s":7,"t":0.500,"v":-0.008},
{"s":7,"t":0.505,"v":-0.003},{"s":7,"t":0.510,"v":-0.010},{"s":7,"t":0.515,"v":-0.013},{"s":7,"t":0.520,"v":-0.004},{"s":7,"t":0.525,"v":-0.008},{"s":7,"t":0.530,"v":-0.001},{"s":7,"t":0.535,"v":-0.011},{"s":7,"t":0.540,"v":-0.005},{"s":7,"t":0.545,"v":-0.014},{"s":7,"t":0.550,"v":-0.007},{"s":7,"t":0.555,"v":-0.022},{"s":7,"t":0.560,"v":-0.010},{"s":7,"t":0.565,"v":-0.004},{"s":7,"t":0.570,"v":-0.013},{"s":7,"t":0.575,"v":-0.007},{"s":7,"t":0.580,"v":-0.021},{"s":7,"t":0.585,"v":-0.008},{"s":7,"t":0.590,"v":-0.003},{"s":7,"t":0.595,"v":-0.011},
{"s":7,"t":0.599,"v":-0.008},{"s":7,"t":0.600,"v":-0.035},{"s":7,"t":0.601,"v":-0.012},
{"s":7,"t":0.605,"v":-0.005},{"s":7,"t":0.610,"v":0},{"s":7,"t":0.615,"v":-0.008},{"s":7,"t":0.620,"v":0.001},{"s":7,"t":0.625,"v":-0.003},{"s":7,"t":0.630,"v":-0.009},{"s":7,"t":0.635,"v":-0.002},{"s":7,"t":0.640,"v":0.002},{"s":7,"t":0.645,"v":-0.006},{"s":7,"t":0.650,"v":-0.002},{"s":7,"t":0.655,"v":-0.005},{"s":7,"t":0.660,"v":0.001},{"s":7,"t":0.665,"v":-0.008},{"s":7,"t":0.670,"v":-0.003},{"s":7,"t":0.675,"v":0.002},{"s":7,"t":0.680,"v":-0.005},{"s":7,"t":0.685,"v":-0.002},{"s":7,"t":0.690,"v":-0.006},{"s":7,"t":0.695,"v":0.001},{"s":7,"t":0.700,"v":-0.003},

{"s":8,"t":0.000,"v":-0.003},{"s":8,"t":0.005,"v":0.002},{"s":8,"t":0.010,"v":-0.006},{"s":8,"t":0.015,"v":0.003},{"s":8,"t":0.020,"v":-0.008},{"s":8,"t":0.025,"v":0},{"s":8,"t":0.030,"v":0.004},{"s":8,"t":0.035,"v":-0.004},{"s":8,"t":0.040,"v":0.002},{"s":8,"t":0.045,"v":-0.003},{"s":8,"t":0.050,"v":0.003},{"s":8,"t":0.055,"v":-0.002},{"s":8,"t":0.060,"v":-0.009},{"s":8,"t":0.065,"v":0},{"s":8,"t":0.070,"v":0.003},{"s":8,"t":0.075,"v":-0.004},{"s":8,"t":0.080,"v":0.002},{"s":8,"t":0.085,"v":-0.003},{"s":8,"t":0.090,"v":0.004},{"s":8,"t":0.095,"v":0},
{"s":8,"t":0.099,"v":0},{"s":8,"t":0.100,"v":-0.093},{"s":8,"t":0.101,"v":-0.030},
{"s":8,"t":0.105,"v":-0.024},{"s":8,"t":0.110,"v":-0.018},{"s":8,"t":0.115,"v":-0.020},{"s":8,"t":0.120,"v":-0.015},{"s":8,"t":0.125,"v":-0.019},{"s":8,"t":0.130,"v":-0.013},{"s":8,"t":0.135,"v":-0.017},{"s":8,"t":0.140,"v":-0.014},{"s":8,"t":0.145,"v":-0.012},{"s":8,"t":0.150,"v":-0.016},{"s":8,"t":0.155,"v":-0.011},{"s":8,"t":0.160,"v":-0.015},{"s":8,"t":0.165,"v":-0.013},{"s":8,"t":0.170,"v":-0.010},{"s":8,"t":0.175,"v":-0.014},{"s":8,"t":0.180,"v":-0.012},{"s":8,"t":0.185,"v":-0.016},{"s":8,"t":0.190,"v":-0.011},{"s":8,"t":0.195,"v":-0.013},{"s":8,"t":0.200,"v":-0.009},
{"s":8,"t":0.205,"v":-0.012},{"s":8,"t":0.210,"v":-0.008},{"s":8,"t":0.215,"v":-0.014},{"s":8,"t":0.220,"v":-0.010},{"s":8,"t":0.225,"v":-0.007},{"s":8,"t":0.230,"v":-0.013},{"s":8,"t":0.235,"v":-0.011},{"s":8,"t":0.240,"v":-0.015},{"s":8,"t":0.245,"v":-0.009},{"s":8,"t":0.250,"v":-0.012},{"s":8,"t":0.255,"v":-0.008},{"s":8,"t":0.260,"v":-0.013},{"s":8,"t":0.265,"v":-0.010},{"s":8,"t":0.270,"v":-0.014},{"s":8,"t":0.275,"v":-0.007},{"s":8,"t":0.280,"v":-0.011},{"s":8,"t":0.285,"v":-0.013},{"s":8,"t":0.290,"v":-0.009},{"s":8,"t":0.295,"v":-0.012},{"s":8,"t":0.300,"v":-0.015},
{"s":8,"t":0.305,"v":-0.010},{"s":8,"t":0.310,"v":-0.007},{"s":8,"t":0.315,"v":-0.012},{"s":8,"t":0.320,"v":-0.014},{"s":8,"t":0.325,"v":-0.008},{"s":8,"t":0.330,"v":-0.011},{"s":8,"t":0.335,"v":-0.009},{"s":8,"t":0.340,"v":-0.013},{"s":8,"t":0.345,"v":-0.006},{"s":8,"t":0.350,"v":-0.012},{"s":8,"t":0.355,"v":-0.010},{"s":8,"t":0.360,"v":-0.008},{"s":8,"t":0.365,"v":-0.013},{"s":8,"t":0.370,"v":-0.011},{"s":8,"t":0.375,"v":-0.007},{"s":8,"t":0.380,"v":-0.012},{"s":8,"t":0.385,"v":-0.009},{"s":8,"t":0.390,"v":-0.014},{"s":8,"t":0.395,"v":-0.010},{"s":8,"t":0.400,"v":-0.008},
{"s":8,"t":0.405,"v":-0.012},{"s":8,"t":0.410,"v":-0.009},{"s":8,"t":0.415,"v":-0.011},{"s":8,"t":0.420,"v":-0.007},{"s":8,"t":0.425,"v":-0.013},{"s":8,"t":0.430,"v":-0.010},{"s":8,"t":0.435,"v":-0.008},{"s":8,"t":0.440,"v":-0.012},{"s":8,"t":0.445,"v":-0.009},{"s":8,"t":0.450,"v":-0.014},{"s":8,"t":0.455,"v":-0.029},{"s":8,"t":0.460,"v":-0.011},{"s":8,"t":0.465,"v":-0.008},{"s":8,"t":0.470,"v":-0.012},{"s":8,"t":0.475,"v":-0.010},{"s":8,"t":0.480,"v":-0.007},{"s":8,"t":0.485,"v":-0.013},{"s":8,"t":0.490,"v":-0.009},{"s":8,"t":0.495,"v":-0.011},{"s":8,"t":0.500,"v":-0.008},
{"s":8,"t":0.505,"v":-0.012},{"s":8,"t":0.510,"v":-0.009},{"s":8,"t":0.515,"v":-0.013},{"s":8,"t":0.520,"v":-0.007},{"s":8,"t":0.525,"v":-0.011},{"s":8,"t":0.530,"v":-0.010},{"s":8,"t":0.535,"v":-0.008},{"s":8,"t":0.540,"v":-0.012},{"s":8,"t":0.545,"v":-0.014},{"s":8,"t":0.550,"v":-0.009},{"s":8,"t":0.555,"v":-0.017},{"s":8,"t":0.560,"v":-0.026},{"s":8,"t":0.565,"v":-0.013},{"s":8,"t":0.570,"v":-0.010},{"s":8,"t":0.575,"v":-0.008},{"s":8,"t":0.580,"v":-0.012},{"s":8,"t":0.585,"v":-0.026},{"s":8,"t":0.590,"v":-0.011},{"s":8,"t":0.595,"v":-0.009},
{"s":8,"t":0.599,"v":-0.010},{"s":8,"t":0.600,"v":-0.056},{"s":8,"t":0.601,"v":-0.015},
{"s":8,"t":0.605,"v":-0.007},{"s":8,"t":0.610,"v":-0.002},{"s":8,"t":0.615,"v":-0.010},{"s":8,"t":0.620,"v":-0.001},{"s":8,"t":0.625,"v":-0.005},{"s":8,"t":0.630,"v":0},{"s":8,"t":0.635,"v":-0.008},{"s":8,"t":0.640,"v":-0.004},{"s":8,"t":0.645,"v":0.002},{"s":8,"t":0.650,"v":-0.007},{"s":8,"t":0.655,"v":-0.002},{"s":8,"t":0.660,"v":-0.010},{"s":8,"t":0.665,"v":-0.001},{"s":8,"t":0.670,"v":-0.005},{"s":8,"t":0.675,"v":0.003},{"s":8,"t":0.680,"v":-0.004},{"s":8,"t":0.685,"v":-0.008},{"s":8,"t":0.690,"v":-0.001},{"s":8,"t":0.695,"v":-0.005},{"s":8,"t":0.700,"v":-0.002},

{"s":9,"t":0.0025,"v":0.003},{"s":9,"t":0.0075,"v":-0.004},{"s":9,"t":0.0125,"v":0.002},{"s":9,"t":0.0175,"v":-0.002},{"s":9,"t":0.0225,"v":0.005},{"s":9,"t":0.0275,"v":-0.003},{"s":9,"t":0.0325,"v":0.001},{"s":9,"t":0.0375,"v":-0.005},{"s":9,"t":0.0425,"v":0.004},{"s":9,"t":0.0475,"v":-0.001},{"s":9,"t":0.0525,"v":0.002},{"s":9,"t":0.0575,"v":-0.004},{"s":9,"t":0.0625,"v":0.003},{"s":9,"t":0.0675,"v":-0.002},{"s":9,"t":0.0725,"v":0.006},{"s":9,"t":0.0775,"v":-0.003},{"s":9,"t":0.0825,"v":0},{"s":9,"t":0.0875,"v":-0.005},{"s":9,"t":0.0925,"v":0.004},{"s":9,"t":0.0975,"v":-0.001},
{"s":9,"t":0.0995,"v":0},{"s":9,"t":0.100,"v":-0.045},{"s":9,"t":0.1005,"v":-0.012},
{"s":9,"t":0.1025,"v":-0.001},{"s":9,"t":0.1075,"v":0.004},{"s":9,"t":0.1125,"v":-0.003},{"s":9,"t":0.1175,"v":0.006},{"s":9,"t":0.1225,"v":0.001},{"s":9,"t":0.1275,"v":0.005},{"s":9,"t":0.1325,"v":-0.002},{"s":9,"t":0.1375,"v":0.003},{"s":9,"t":0.1425,"v":0.007},{"s":9,"t":0.1475,"v":0},{"s":9,"t":0.1525,"v":-0.002},{"s":9,"t":0.1575,"v":0.005},{"s":9,"t":0.1625,"v":0.001},{"s":9,"t":0.1675,"v":0.006},{"s":9,"t":0.1725,"v":-0.004},{"s":9,"t":0.1775,"v":0.004},{"s":9,"t":0.1825,"v":0},{"s":9,"t":0.1875,"v":0.007},{"s":9,"t":0.1925,"v":-0.001},{"s":9,"t":0.1975,"v":0.003},
{"s":9,"t":0.2025,"v":0.007},{"s":9,"t":0.2075,"v":0},{"s":9,"t":0.2125,"v":0.005},{"s":9,"t":0.2175,"v":-0.004},{"s":9,"t":0.2225,"v":0.003},{"s":9,"t":0.2275,"v":-0.001},{"s":9,"t":0.2325,"v":0.006},{"s":9,"t":0.2375,"v":0.001},{"s":9,"t":0.2425,"v":0.004},{"s":9,"t":0.2475,"v":-0.003},{"s":9,"t":0.2525,"v":0.008},{"s":9,"t":0.2575,"v":0},{"s":9,"t":0.2625,"v":-0.002},{"s":9,"t":0.2675,"v":0.005},{"s":9,"t":0.2725,"v":0.001},{"s":9,"t":0.2775,"v":0.007},{"s":9,"t":0.2825,"v":-0.001},{"s":9,"t":0.2875,"v":0.004},{"s":9,"t":0.2925,"v":-0.004},{"s":9,"t":0.2975,"v":0.006},
{"s":9,"t":0.3025,"v":0.001},{"s":9,"t":0.3075,"v":0.006},{"s":9,"t":0.3125,"v":-0.001},{"s":9,"t":0.3175,"v":0.008},{"s":9,"t":0.3225,"v":-0.002},{"s":9,"t":0.3275,"v":0.004},{"s":9,"t":0.3325,"v":0},{"s":9,"t":0.3375,"v":0.007},{"s":9,"t":0.3425,"v":-0.003},{"s":9,"t":0.3475,"v":0.003},{"s":9,"t":0.3525,"v":0.005},{"s":9,"t":0.3575,"v":-0.002},{"s":9,"t":0.3625,"v":0.006},{"s":9,"t":0.3675,"v":0},{"s":9,"t":0.3725,"v":-0.003},{"s":9,"t":0.3775,"v":0.005},{"s":9,"t":0.3825,"v":0.003},{"s":9,"t":0.3875,"v":-0.001},{"s":9,"t":0.3925,"v":0.007},{"s":9,"t":0.3975,"v":-0.004},
{"s":9,"t":0.4025,"v":0.004},{"s":9,"t":0.4075,"v":-0.003},{"s":9,"t":0.4125,"v":0.006},{"s":9,"t":0.4175,"v":-0.001},{"s":9,"t":0.4225,"v":0.003},{"s":9,"t":0.4275,"v":-0.004},{"s":9,"t":0.4325,"v":0.007},{"s":9,"t":0.4375,"v":0},{"s":9,"t":0.4425,"v":0.005},{"s":9,"t":0.4475,"v":-0.002},{"s":9,"t":0.4525,"v":0.001},{"s":9,"t":0.4575,"v":0.008},{"s":9,"t":0.4625,"v":-0.001},{"s":9,"t":0.4675,"v":0.004},{"s":9,"t":0.4725,"v":-0.003},{"s":9,"t":0.4775,"v":0.006},{"s":9,"t":0.4825,"v":0},{"s":9,"t":0.4875,"v":0.003},{"s":9,"t":0.4925,"v":-0.002},{"s":9,"t":0.4975,"v":0.005},
{"s":9,"t":0.5025,"v":0.005},{"s":9,"t":0.5075,"v":-0.002},{"s":9,"t":0.5125,"v":0.004},{"s":9,"t":0.5175,"v":0},{"s":9,"t":0.5225,"v":0.007},{"s":9,"t":0.5275,"v":-0.001},{"s":9,"t":0.5325,"v":0.003},{"s":9,"t":0.5375,"v":-0.003},{"s":9,"t":0.5425,"v":0.006},{"s":9,"t":0.5475,"v":0.001},{"s":9,"t":0.5525,"v":0.004},{"s":9,"t":0.5575,"v":-0.002},{"s":9,"t":0.5625,"v":0.005},{"s":9,"t":0.5675,"v":0},{"s":9,"t":0.5725,"v":0.008},{"s":9,"t":0.5775,"v":-0.001},{"s":9,"t":0.5825,"v":0.002},{"s":9,"t":0.5875,"v":-0.003},{"s":9,"t":0.5925,"v":0.006},{"s":9,"t":0.5975,"v":0.001},
{"s":9,"t":0.5995,"v":0.001},{"s":9,"t":0.600,"v":-0.010},{"s":9,"t":0.6005,"v":-0.004},
{"s":9,"t":0.6025,"v":0.004},{"s":9,"t":0.6075,"v":-0.003},{"s":9,"t":0.6125,"v":0.002},{"s":9,"t":0.6175,"v":-0.007},{"s":9,"t":0.6225,"v":0},{"s":9,"t":0.6275,"v":-0.004},{"s":9,"t":0.6325,"v":0.003},{"s":9,"t":0.6375,"v":-0.002},{"s":9,"t":0.6425,"v":0.001},{"s":9,"t":0.6475,"v":-0.006},{"s":9,"t":0.6525,"v":0.005},{"s":9,"t":0.6575,"v":-0.003},{"s":9,"t":0.6625,"v":-0.005},{"s":9,"t":0.6675,"v":0.002},{"s":9,"t":0.6725,"v":-0.002},{"s":9,"t":0.6775,"v":0.004},{"s":9,"t":0.6825,"v":-0.004},{"s":9,"t":0.6875,"v":0.001},{"s":9,"t":0.6925,"v":-0.007},{"s":9,"t":0.6975,"v":0.003},

{"s":10,"t":0.0025,"v":-0.001},{"s":10,"t":0.0075,"v":0.004},{"s":10,"t":0.0125,"v":-0.003},{"s":10,"t":0.0175,"v":0.006},{"s":10,"t":0.0225,"v":-0.004},{"s":10,"t":0.0275,"v":0.002},{"s":10,"t":0.0325,"v":-0.002},{"s":10,"t":0.0375,"v":0.005},{"s":10,"t":0.0425,"v":-0.005},{"s":10,"t":0.0475,"v":0.001},{"s":10,"t":0.0525,"v":0.003},{"s":10,"t":0.0575,"v":-0.004},{"s":10,"t":0.0625,"v":0.004},{"s":10,"t":0.0675,"v":-0.002},{"s":10,"t":0.0725,"v":-0.005},{"s":10,"t":0.0775,"v":0.003},{"s":10,"t":0.0825,"v":0.001},{"s":10,"t":0.0875,"v":-0.003},{"s":10,"t":0.0925,"v":0.005},{"s":10,"t":0.0975,"v":-0.006},
{"s":10,"t":0.0995,"v":0},{"s":10,"t":0.100,"v":-0.066},{"s":10,"t":0.1005,"v":-0.020},
{"s":10,"t":0.1025,"v":0.001},{"s":10,"t":0.1075,"v":-0.006},{"s":10,"t":0.1125,"v":0.003},{"s":10,"t":0.1175,"v":-0.004},{"s":10,"t":0.1225,"v":0},{"s":10,"t":0.1275,"v":-0.007},{"s":10,"t":0.1325,"v":0.004},{"s":10,"t":0.1375,"v":-0.003},{"s":10,"t":0.1425,"v":0.002},{"s":10,"t":0.1475,"v":-0.005},{"s":10,"t":0.1525,"v":-0.002},{"s":10,"t":0.1575,"v":0.005},{"s":10,"t":0.1625,"v":-0.004},{"s":10,"t":0.1675,"v":0.001},{"s":10,"t":0.1725,"v":-0.006},{"s":10,"t":0.1775,"v":0.003},{"s":10,"t":0.1825,"v":-0.003},{"s":10,"t":0.1875,"v":0},{"s":10,"t":0.1925,"v":-0.005},{"s":10,"t":0.1975,"v":0.002},
{"s":10,"t":0.2025,"v":0.002},{"s":10,"t":0.2075,"v":-0.005},{"s":10,"t":0.2125,"v":0.001},{"s":10,"t":0.2175,"v":-0.003},{"s":10,"t":0.2225,"v":0.004},{"s":10,"t":0.2275,"v":-0.004},{"s":10,"t":0.2325,"v":0},{"s":10,"t":0.2375,"v":-0.006},{"s":10,"t":0.2425,"v":0.003},{"s":10,"t":0.2475,"v":-0.002},{"s":10,"t":0.2525,"v":0.001},{"s":10,"t":0.2575,"v":-0.005},{"s":10,"t":0.2625,"v":0.002},{"s":10,"t":0.2675,"v":-0.003},{"s":10,"t":0.2725,"v":0.005},{"s":10,"t":0.2775,"v":-0.004},{"s":10,"t":0.2825,"v":-0.001},{"s":10,"t":0.2875,"v":-0.006},{"s":10,"t":0.2925,"v":0.003},{"s":10,"t":0.2975,"v":-0.002},
{"s":10,"t":0.3025,"v":-0.004},{"s":10,"t":0.3075,"v":0.001},{"s":10,"t":0.3125,"v":-0.006},{"s":10,"t":0.3175,"v":0.003},{"s":10,"t":0.3225,"v":-0.002},{"s":10,"t":0.3275,"v":0.002},{"s":10,"t":0.3325,"v":-0.005},{"s":10,"t":0.3375,"v":0},{"s":10,"t":0.3425,"v":0.004},{"s":10,"t":0.3475,"v":-0.003},{"s":10,"t":0.3525,"v":-0.005},{"s":10,"t":0.3575,"v":0.002},{"s":10,"t":0.3625,"v":-0.002},{"s":10,"t":0.3675,"v":0.003},{"s":10,"t":0.3725,"v":-0.007},{"s":10,"t":0.3775,"v":0.001},{"s":10,"t":0.3825,"v":-0.003},{"s":10,"t":0.3875,"v":0.004},{"s":10,"t":0.3925,"v":-0.004},{"s":10,"t":0.3975,"v":0},
{"s":10,"t":0.4025,"v":0.004},{"s":10,"t":0.4075,"v":-0.003},{"s":10,"t":0.4125,"v":0.002},{"s":10,"t":0.4175,"v":-0.007},{"s":10,"t":0.4225,"v":0},{"s":10,"t":0.4275,"v":-0.004},{"s":10,"t":0.4325,"v":0.003},{"s":10,"t":0.4375,"v":-0.002},{"s":10,"t":0.4425,"v":0.001},{"s":10,"t":0.4475,"v":-0.006},{"s":10,"t":0.4525,"v":0.005},{"s":10,"t":0.4575,"v":-0.003},{"s":10,"t":0.4625,"v":-0.005},{"s":10,"t":0.4675,"v":0.002},{"s":10,"t":0.4725,"v":-0.002},{"s":10,"t":0.4775,"v":0.004},{"s":10,"t":0.4825,"v":-0.004},{"s":10,"t":0.4875,"v":0.001},{"s":10,"t":0.4925,"v":-0.007},{"s":10,"t":0.4975,"v":0.003},
{"s":10,"t":0.5025,"v":-0.002},{"s":10,"t":0.5075,"v":0.003},{"s":10,"t":0.5125,"v":-0.004},{"s":10,"t":0.5175,"v":0.005},{"s":10,"t":0.5225,"v":-0.005},{"s":10,"t":0.5275,"v":0.001},{"s":10,"t":0.5325,"v":-0.003},{"s":10,"t":0.5375,"v":0.004},{"s":10,"t":0.5425,"v":-0.006},{"s":10,"t":0.5475,"v":0},{"s":10,"t":0.5525,"v":0.002},{"s":10,"t":0.5575,"v":-0.005},{"s":10,"t":0.5625,"v":0.003},{"s":10,"t":0.5675,"v":-0.003},{"s":10,"t":0.5725,"v":-0.006},{"s":10,"t":0.5775,"v":0.002},{"s":10,"t":0.5825,"v":0},{"s":10,"t":0.5875,"v":-0.004},{"s":10,"t":0.5925,"v":0.004},{"s":10,"t":0.5975,"v":-0.007},
{"s":10,"t":0.5995,"v":-0.002},{"s":10,"t":0.600,"v":-0.015},{"s":10,"t":0.6005,"v":-0.006},
{"s":10,"t":0.6025,"v":-0.004},{"s":10,"t":0.6075,"v":0.001},{"s":10,"t":0.6125,"v":-0.006},{"s":10,"t":0.6175,"v":0.003},{"s":10,"t":0.6225,"v":-0.002},{"s":10,"t":0.6275,"v":0.002},{"s":10,"t":0.6325,"v":-0.005},{"s":10,"t":0.6375,"v":0},{"s":10,"t":0.6425,"v":0.004},{"s":10,"t":0.6475,"v":-0.003},{"s":10,"t":0.6525,"v":-0.005},{"s":10,"t":0.6575,"v":0.002},{"s":10,"t":0.6625,"v":-0.002},{"s":10,"t":0.6675,"v":0.003},{"s":10,"t":0.6725,"v":-0.007},{"s":10,"t":0.6775,"v":0.001},{"s":10,"t":0.6825,"v":-0.003},{"s":10,"t":0.6875,"v":0.004},{"s":10,"t":0.6925,"v":-0.004},{"s":10,"t":0.6975,"v":0},

{"s":11,"t":0.0025,"v":0.002},{"s":11,"t":0.0075,"v":-0.005},{"s":11,"t":0.0125,"v":0.004},{"s":11,"t":0.0175,"v":-0.003},{"s":11,"t":0.0225,"v":0.001},{"s":11,"t":0.0275,"v":-0.006},{"s":11,"t":0.0325,"v":0.005},{"s":11,"t":0.0375,"v":-0.002},{"s":11,"t":0.0425,"v":0.003},{"s":11,"t":0.0475,"v":-0.004},{"s":11,"t":0.0525,"v":-0.001},{"s":11,"t":0.0575,"v":0.006},{"s":11,"t":0.0625,"v":-0.003},{"s":11,"t":0.0675,"v":0.002},{"s":11,"t":0.0725,"v":-0.005},{"s":11,"t":0.0775,"v":0.004},{"s":11,"t":0.0825,"v":-0.002},{"s":11,"t":0.0875,"v":0.001},{"s":11,"t":0.0925,"v":-0.004},{"s":11,"t":0.0975,"v":0.003},
{"s":11,"t":0.0995,"v":0},{"s":11,"t":0.100,"v":-0.078},{"s":11,"t":0.1005,"v":-0.024},
{"s":11,"t":0.1025,"v":-0.002},{"s":11,"t":0.1075,"v":-0.009},{"s":11,"t":0.1125,"v":-0.004},{"s":11,"t":0.1175,"v":-0.013},{"s":11,"t":0.1225,"v":-0.006},{"s":11,"t":0.1275,"v":-0.010},{"s":11,"t":0.1325,"v":-0.003},{"s":11,"t":0.1375,"v":-0.008},{"s":11,"t":0.1425,"v":-0.005},{"s":11,"t":0.1475,"v":-0.012},{"s":11,"t":0.1525,"v":0.002},{"s":11,"t":0.1575,"v":-0.006},{"s":11,"t":0.1625,"v":-0.008},{"s":11,"t":0.1675,"v":-0.001},{"s":11,"t":0.1725,"v":-0.005},{"s":11,"t":0.1775,"v":0.001},{"s":11,"t":0.1825,"v":-0.007},{"s":11,"t":0.1875,"v":-0.002},{"s":11,"t":0.1925,"v":-0.010},{"s":11,"t":0.1975,"v":0},
{"s":11,"t":0.2025,"v":-0.005},{"s":11,"t":0.2075,"v":0},{"s":11,"t":0.2125,"v":-0.007},{"s":11,"t":0.2175,"v":0.002},{"s":11,"t":0.2225,"v":-0.008},{"s":11,"t":0.2275,"v":-0.002},{"s":11,"t":0.2325,"v":-0.006},{"s":11,"t":0.2375,"v":0.001},{"s":11,"t":0.2425,"v":-0.009},{"s":11,"t":0.2475,"v":-0.003},{"s":11,"t":0.2525,"v":-0.001},{"s":11,"t":0.2575,"v":-0.008},{"s":11,"t":0.2625,"v":0},{"s":11,"t":0.2675,"v":-0.006},{"s":11,"t":0.2725,"v":-0.009},{"s":11,"t":0.2775,"v":-0.001},{"s":11,"t":0.2825,"v":-0.003},{"s":11,"t":0.2875,"v":-0.007},{"s":11,"t":0.2925,"v":0.001},{"s":11,"t":0.2975,"v":-0.010},
{"s":11,"t":0.3025,"v":-0.001},{"s":11,"t":0.3075,"v":-0.008},{"s":11,"t":0.3125,"v":-0.002},{"s":11,"t":0.3175,"v":-0.006},{"s":11,"t":0.3225,"v":0.001},{"s":11,"t":0.3275,"v":-0.007},{"s":11,"t":0.3325,"v":-0.003},{"s":11,"t":0.3375,"v":-0.009},{"s":11,"t":0.3425,"v":0},{"s":11,"t":0.3475,"v":-0.005},{"s":11,"t":0.3525,"v":-0.002},{"s":11,"t":0.3575,"v":-0.008},{"s":11,"t":0.3625,"v":-0.001},{"s":11,"t":0.3675,"v":-0.006},{"s":11,"t":0.3725,"v":0.002},{"s":11,"t":0.3775,"v":-0.007},{"s":11,"t":0.3825,"v":-0.004},{"s":11,"t":0.3875,"v":-0.009},{"s":11,"t":0.3925,"v":0},{"s":11,"t":0.3975,"v":-0.005},
{"s":11,"t":0.4025,"v":-0.007},{"s":11,"t":0.4075,"v":-0.002},{"s":11,"t":0.4125,"v":-0.009},{"s":11,"t":0.4175,"v":0},{"s":11,"t":0.4225,"v":-0.005},{"s":11,"t":0.4275,"v":-0.001},{"s":11,"t":0.4325,"v":-0.008},{"s":11,"t":0.4375,"v":-0.003},{"s":11,"t":0.4425,"v":0.001},{"s":11,"t":0.4475,"v":-0.006},{"s":11,"t":0.4525,"v":-0.008},{"s":11,"t":0.4575,"v":-0.001},{"s":11,"t":0.4625,"v":-0.005},{"s":11,"t":0.4675,"v":0},{"s":11,"t":0.4725,"v":-0.010},{"s":11,"t":0.4775,"v":-0.002},{"s":11,"t":0.4825,"v":-0.006},{"s":11,"t":0.4875,"v":0.001},{"s":11,"t":0.4925,"v":-0.007},{"s":11,"t":0.4975,"v":-0.003},
{"s":11,"t":0.5025,"v":-0.002},{"s":11,"t":0.5075,"v":-0.009},{"s":11,"t":0.5125,"v":0},{"s":11,"t":0.5175,"v":-0.007},{"s":11,"t":0.5225,"v":-0.003},{"s":11,"t":0.5275,"v":-0.010},{"s":11,"t":0.5325,"v":0.001},{"s":11,"t":0.5375,"v":-0.006},{"s":11,"t":0.5425,"v":-0.001},{"s":11,"t":0.5475,"v":-0.008},{"s":11,"t":0.5525,"v":-0.005},{"s":11,"t":0.5575,"v":0.002},{"s":11,"t":0.5625,"v":-0.007},{"s":11,"t":0.5675,"v":-0.002},{"s":11,"t":0.5725,"v":-0.009},{"s":11,"t":0.5775,"v":0},{"s":11,"t":0.5825,"v":-0.006},{"s":11,"t":0.5875,"v":-0.003},{"s":11,"t":0.5925,"v":-0.008},{"s":11,"t":0.5975,"v":-0.001},
{"s":11,"t":0.5995,"v":-0.005},{"s":11,"t":0.600,"v":-0.028},{"s":11,"t":0.6005,"v":-0.010},
{"s":11,"t":0.6025,"v":0.001},{"s":11,"t":0.6075,"v":-0.006},{"s":11,"t":0.6125,"v":0},{"s":11,"t":0.6175,"v":-0.004},{"s":11,"t":0.6225,"v":0.003},{"s":11,"t":0.6275,"v":-0.005},{"s":11,"t":0.6325,"v":-0.001},{"s":11,"t":0.6375,"v":-0.007},{"s":11,"t":0.6425,"v":0.002},{"s":11,"t":0.6475,"v":-0.003},{"s":11,"t":0.6525,"v":0},{"s":11,"t":0.6575,"v":-0.006},{"s":11,"t":0.6625,"v":0.001},{"s":11,"t":0.6675,"v":-0.004},{"s":11,"t":0.6725,"v":0.004},{"s":11,"t":0.6775,"v":-0.005},{"s":11,"t":0.6825,"v":-0.002},{"s":11,"t":0.6875,"v":-0.007},{"s":11,"t":0.6925,"v":0.002},{"s":11,"t":0.6975,"v":-0.003},

{"s":12,"t":0.0025,"v":-0.003},{"s":12,"t":0.0075,"v":0.002},{"s":12,"t":0.0125,"v":-0.005},{"s":12,"t":0.0175,"v":0.004},{"s":12,"t":0.0225,"v":-0.001},{"s":12,"t":0.0275,"v":0.003},{"s":12,"t":0.0325,"v":-0.004},{"s":12,"t":0.0375,"v":0.001},{"s":12,"t":0.0425,"v":0.005},{"s":12,"t":0.0475,"v":-0.002},{"s":12,"t":0.0525,"v":-0.004},{"s":12,"t":0.0575,"v":0.003},{"s":12,"t":0.0625,"v":-0.001},{"s":12,"t":0.0675,"v":0.004},{"s":12,"t":0.0725,"v":-0.006},{"s":12,"t":0.0775,"v":0.002},{"s":12,"t":0.0825,"v":-0.002},{"s":12,"t":0.0875,"v":0.005},{"s":12,"t":0.0925,"v":-0.003},{"s":12,"t":0.0975,"v":0.001},
{"s":12,"t":0.0995,"v":0},{"s":12,"t":0.100,"v":0.020},{"s":12,"t":0.1005,"v":0.008},
{"s":12,"t":0.1025,"v":0.009},{"s":12,"t":0.1075,"v":0.002},{"s":12,"t":0.1125,"v":0.008},{"s":12,"t":0.1175,"v":0.004},{"s":12,"t":0.1225,"v":0.011},{"s":12,"t":0.1275,"v":0.003},{"s":12,"t":0.1325,"v":0.007},{"s":12,"t":0.1375,"v":0.001},{"s":12,"t":0.1425,"v":0.010},{"s":12,"t":0.1475,"v":0.005},{"s":12,"t":0.1525,"v":0.008},{"s":12,"t":0.1575,"v":0.002},{"s":12,"t":0.1625,"v":0.009},{"s":12,"t":0.1675,"v":0.004},{"s":12,"t":0.1725,"v":0.012},{"s":12,"t":0.1775,"v":0.003},{"s":12,"t":0.1825,"v":0.006},{"s":12,"t":0.1875,"v":0.001},{"s":12,"t":0.1925,"v":0.010},{"s":12,"t":0.1975,"v":0.005},
{"s":12,"t":0.2025,"v":0.008},{"s":12,"t":0.2075,"v":0.001},{"s":12,"t":0.2125,"v":0.010},{"s":12,"t":0.2175,"v":0.003},{"s":12,"t":0.2225,"v":0.007},{"s":12,"t":0.2275,"v":0},{"s":12,"t":0.2325,"v":0.011},{"s":12,"t":0.2375,"v":0.004},{"s":12,"t":0.2425,"v":0.009},{"s":12,"t":0.2475,"v":0.002},{"s":12,"t":0.2525,"v":0.005},{"s":12,"t":0.2575,"v":0.012},{"s":12,"t":0.2625,"v":0.003},{"s":12,"t":0.2675,"v":0.008},{"s":12,"t":0.2725,"v":0.001},{"s":12,"t":0.2775,"v":0.010},{"s":12,"t":0.2825,"v":0.004},{"s":12,"t":0.2875,"v":0.007},{"s":12,"t":0.2925,"v":0.002},{"s":12,"t":0.2975,"v":0.009},
{"s":12,"t":0.3025,"v":0.011},{"s":12,"t":0.3075,"v":0.004},{"s":12,"t":0.3125,"v":0.009},{"s":12,"t":0.3175,"v":0},{"s":12,"t":0.3225,"v":0.007},{"s":12,"t":0.3275,"v":0.003},{"s":12,"t":0.3325,"v":0.010},{"s":12,"t":0.3375,"v":0.005},{"s":12,"t":0.3425,"v":0.008},{"s":12,"t":0.3475,"v":0.001},{"s":12,"t":0.3525,"v":0.012},{"s":12,"t":0.3575,"v":0.004},{"s":12,"t":0.3625,"v":0.002},{"s":12,"t":0.3675,"v":0.009},{"s":12,"t":0.3725,"v":0.005},{"s":12,"t":0.3775,"v":0.011},{"s":12,"t":0.3825,"v":0.003},{"s":12,"t":0.3875,"v":0.008},{"s":12,"t":0.3925,"v":0},{"s":12,"t":0.3975,"v":0.010},
{"s":12,"t":0.4025,"v":0.005},{"s":12,"t":0.4075,"v":0.010},{"s":12,"t":0.4125,"v":0.003},{"s":12,"t":0.4175,"v":0.012},{"s":12,"t":0.4225,"v":0.002},{"s":12,"t":0.4275,"v":0.008},{"s":12,"t":0.4325,"v":0.004},{"s":12,"t":0.4375,"v":0.011},{"s":12,"t":0.4425,"v":0.001},{"s":12,"t":0.4475,"v":0.007},{"s":12,"t":0.4525,"v":0.009},{"s":12,"t":0.4575,"v":0.002},{"s":12,"t":0.4625,"v":0.010},{"s":12,"t":0.4675,"v":0.004},{"s":12,"t":0.4725,"v":0.001},{"s":12,"t":0.4775,"v":0.009},{"s":12,"t":0.4825,"v":0.007},{"s":12,"t":0.4875,"v":0.003},{"s":12,"t":0.4925,"v":0.011},{"s":12,"t":0.4975,"v":0},
{"s":12,"t":0.5025,"v":0.003},{"s":12,"t":0.5075,"v":0.008},{"s":12,"t":0.5125,"v":0.001},{"s":12,"t":0.5175,"v":0.010},{"s":12,"t":0.5225,"v":0.005},{"s":12,"t":0.5275,"v":0.009},{"s":12,"t":0.5325,"v":0.002},{"s":12,"t":0.5375,"v":0.007},{"s":12,"t":0.5425,"v":0.011},{"s":12,"t":0.5475,"v":0.004},{"s":12,"t":0.5525,"v":0.002},{"s":12,"t":0.5575,"v":0.009},{"s":12,"t":0.5625,"v":0.005},{"s":12,"t":0.5675,"v":0.010},{"s":12,"t":0.5725,"v":0},{"s":12,"t":0.5775,"v":0.008},{"s":12,"t":0.5825,"v":0.004},{"s":12,"t":0.5875,"v":0.011},{"s":12,"t":0.5925,"v":0.003},{"s":12,"t":0.5975,"v":0.007},
{"s":12,"t":0.5995,"v":0.007},{"s":12,"t":0.600,"v":-0.003},{"s":12,"t":0.6005,"v":0},
{"s":12,"t":0.6025,"v":0.002},{"s":12,"t":0.6075,"v":-0.005},{"s":12,"t":0.6125,"v":0.004},{"s":12,"t":0.6175,"v":-0.003},{"s":12,"t":0.6225,"v":0.001},{"s":12,"t":0.6275,"v":-0.006},{"s":12,"t":0.6325,"v":0.005},{"s":12,"t":0.6375,"v":-0.002},{"s":12,"t":0.6425,"v":0.003},{"s":12,"t":0.6475,"v":-0.004},{"s":12,"t":0.6525,"v":-0.001},{"s":12,"t":0.6575,"v":0.006},{"s":12,"t":0.6625,"v":-0.003},{"s":12,"t":0.6675,"v":0.002},{"s":12,"t":0.6725,"v":-0.005},{"s":12,"t":0.6775,"v":0.004},{"s":12,"t":0.6825,"v":-0.002},{"s":12,"t":0.6875,"v":0.001},{"s":12,"t":0.6925,"v":-0.004},{"s":12,"t":0.6975,"v":0.003}
    ]
  },
  "layer": [
    {
      "mark": {"type": "line", "color": "#000000", "strokeWidth": 2, "clip": true},
      "encoding": {
        "x": {
          "field": "t",
          "type": "quantitative",
          "scale": {"domain": [0, 0.7], "nice": false, "zero": false},
          "axis": {
            "title": "t [s]",
            "values": [0.1, 0.6],
            "format": ".1f",
            "grid": false,
            "tickSize": -5,
            "tickColor": "#404040",
            "domainColor": "#404040",
            "labelFont": "DejaVu Sans",
            "labelFontSize": 22,
            "labelColor": "#262626",
            "labelBaseline": "alphabetic",
            "labelPadding": 35,
            "titleFont": "DejaVu Sans",
            "titleFontSize": 24,
            "titleFontWeight": "normal",
            "titleColor": "#262626",
            "titleBaseline": "alphabetic",
            "titlePadding": 28
          }
        },
        "y": {
          "field": "v",
          "type": "quantitative",
          "scale": {"domain": [-0.1077, 0.0608], "nice": false, "zero": false},
          "axis": {
            "title": "I [nA]",
            "values": [-0.08, -0.04, 0, 0.04],
            "labelExpr": "'' + datum.value",
            "grid": false,
            "tickSize": -5,
            "tickColor": "#404040",
            "domainColor": "#404040",
            "labelFont": "DejaVu Sans",
            "labelFontSize": 22,
            "labelColor": "#262626",
            "labelAlign": "center",
            "labelBaseline": "middle",
            "labelPadding": 48,
            "titleFont": "DejaVu Sans",
            "titleFontSize": 24,
            "titleFontWeight": "normal",
            "titleColor": "#262626",
            "titlePadding": 2
          }
        },
        "detail": {"field": "s", "type": "nominal"}
      }
    },
    {
      "data": {"values": [{"label": "25 °C\u00a0 Activation"}]},
      "mark": {"type": "text", "align": "right", "baseline": "alphabetic", "font": "DejaVu Sans", "fontSize": 19, "color": "#000000"},
      "encoding": {
        "x": {"datum": 0.6977, "type": "quantitative"},
        "y": {"datum": 0.0595, "type": "quantitative"},
        "text": {"field": "label"}
      }
    },
    {
      "data": {"values": [{"label": "BBP Channelpedia ID 31008 rep 2"}]},
      "mark": {"type": "text", "angle": 270, "align": "center", "baseline": "middle", "font": "DejaVu Sans", "fontSize": 14.3, "color": "#000000"},
      "encoding": {
        "x": {"datum": 0.7105, "type": "quantitative"},
        "y": {"datum": -0.0252, "type": "quantitative"},
        "text": {"field": "label"}
      }
    }
  ]
}
